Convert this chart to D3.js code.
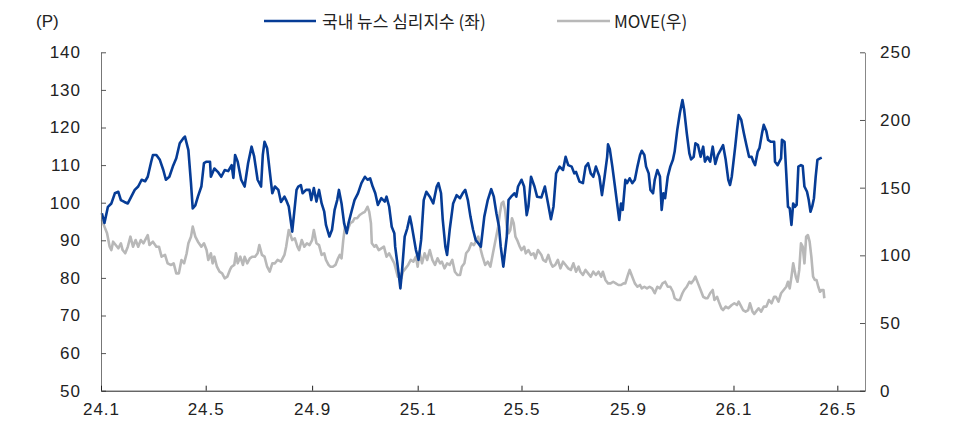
<!DOCTYPE html>
<html>
<head>
<meta charset="utf-8">
<script src="https://cdn.jsdelivr.net/npm/d3@7"></script>
<style>
  body { margin: 0; background: #fff; }
  svg text { font-family: "Liberation Sans", Arial, sans-serif; fill: #222; }
  .legend text { font-family: "Noto Sans CJK KR", "Liberation Sans", sans-serif; }
</style>
</head>
<body>
<svg id="chart" width="955" height="423"></svg>
<script>
// 국내 뉴스 심리지수 (left axis, P)
const sentDates = [
  "2024-01-02","2024-01-05","2024-01-09","2024-01-13","2024-01-17","2024-01-21","2024-01-24","2024-01-28",
  "2024-02-01","2024-02-05","2024-02-09","2024-02-13","2024-02-17","2024-02-21","2024-02-24","2024-02-28",
  "2024-03-01","2024-03-05","2024-03-09","2024-03-13","2024-03-16","2024-03-20","2024-03-24","2024-03-28",
  "2024-04-01","2024-04-05","2024-04-07","2024-04-11","2024-04-14","2024-04-16","2024-04-19","2024-04-22",
  "2024-04-26","2024-04-29","2024-05-02","2024-05-06","2024-05-07","2024-05-11","2024-05-15","2024-05-19",
  "2024-05-23","2024-05-27","2024-05-31","2024-06-02","2024-06-04","2024-06-07","2024-06-11","2024-06-15",
  "2024-06-19","2024-06-23","2024-06-26","2024-06-30","2024-07-04","2024-07-06","2024-07-08","2024-07-11",
  "2024-07-14","2024-07-17","2024-07-20","2024-07-24","2024-07-27","2024-07-31","2024-08-02","2024-08-05",
  "2024-08-09","2024-08-14","2024-08-16","2024-08-19","2024-08-21","2024-08-25","2024-08-29","2024-08-31",
  "2024-09-03","2024-09-06","2024-09-09","2024-09-12","2024-09-15","2024-09-17","2024-09-21","2024-09-24",
  "2024-09-27","2024-09-30","2024-10-02","2024-10-05","2024-10-08","2024-10-11","2024-10-13","2024-10-16",
  "2024-10-20","2024-10-24","2024-10-28","2024-11-01","2024-11-04","2024-11-07","2024-11-10","2024-11-13",
  "2024-11-16","2024-11-20","2024-11-24","2024-11-26","2024-11-29","2024-12-02","2024-12-05","2024-12-06",
  "2024-12-08","2024-12-10","2024-12-12","2024-12-14","2024-12-17","2024-12-20","2024-12-23","2024-12-25",
  "2024-12-28","2024-12-30","2025-01-02","2025-01-05","2025-01-08","2025-01-11","2025-01-15","2025-01-19",
  "2025-01-23","2025-01-25","2025-01-28","2025-01-30","2025-02-02","2025-02-04","2025-02-07","2025-02-11",
  "2025-02-15","2025-02-19","2025-02-22","2025-02-25","2025-02-28","2025-03-03","2025-03-06","2025-03-09",
  "2025-03-12","2025-03-15","2025-03-19","2025-03-23","2025-03-27","2025-03-30","2025-04-02","2025-04-05",
  "2025-04-07","2025-04-10","2025-04-12","2025-04-14","2025-04-16","2025-04-19","2025-04-23","2025-04-25",
  "2025-04-27","2025-05-01","2025-05-04","2025-05-07","2025-05-09","2025-05-12","2025-05-16","2025-05-19",
  "2025-05-24","2025-05-28","2025-06-01","2025-06-04","2025-06-07","2025-06-10","2025-06-14","2025-06-18",
  "2025-06-21","2025-06-24","2025-06-28","2025-07-01","2025-07-03","2025-07-07","2025-07-11","2025-07-14",
  "2025-07-17","2025-07-20","2025-07-23","2025-07-26","2025-07-30","2025-08-02","2025-08-05","2025-08-08",
  "2025-08-09","2025-08-11","2025-08-14","2025-08-17","2025-08-20","2025-08-22","2025-08-24","2025-08-26",
  "2025-08-29","2025-08-31","2025-09-03","2025-09-06","2025-09-09","2025-09-12","2025-09-15","2025-09-17",
  "2025-09-20","2025-09-22","2025-09-25","2025-09-27","2025-09-30","2025-10-02","2025-10-05","2025-10-08",
  "2025-10-10","2025-10-12","2025-10-14","2025-10-17","2025-10-20","2025-10-23","2025-10-25","2025-10-28",
  "2025-10-31","2025-11-03","2025-11-05","2025-11-08","2025-11-11","2025-11-13","2025-11-16","2025-11-18",
  "2025-11-21","2025-11-24","2025-11-27","2025-11-29","2025-12-02","2025-12-05","2025-12-08","2025-12-11",
  "2025-12-14","2025-12-17","2025-12-20","2025-12-23","2025-12-26","2025-12-28","2025-12-30","2026-01-03",
  "2026-01-05","2026-01-07","2026-01-10","2026-01-13","2026-01-16","2026-01-19","2026-01-22","2026-01-24",
  "2026-01-26","2026-01-29","2026-01-31","2026-02-03","2026-02-05","2026-02-08","2026-02-10","2026-02-13",
  "2026-02-17","2026-02-18","2026-02-21","2026-02-25","2026-02-26","2026-03-01","2026-03-03","2026-03-05",
  "2026-03-07","2026-03-09","2026-03-11","2026-03-13","2026-03-15","2026-03-17","2026-03-20","2026-03-22",
  "2026-03-24","2026-03-27","2026-03-29","2026-03-31","2026-04-02","2026-04-04","2026-04-06","2026-04-08",
  "2026-04-11","2026-04-13"
];
const sentValues = [
  97.2,94.6,98.9,99.8,102.5,102.9,100.7,100.2,
  99.8,101.6,103.4,104.3,106.1,105.7,106.9,110.9,
  112.7,112.7,111.4,108.7,106.1,106.9,109.6,111.8,
  115.8,117.1,117.6,114.0,105.2,98.5,99.3,101.6,
  104.3,110.5,110.9,110.9,106.9,109.1,108.2,106.9,
  108.7,108.4,110.0,106.6,112.7,110.9,106.1,104.3,
  110.5,114.9,112.3,106.1,104.3,112.7,116.2,114.5,
  108.4,102.5,104.3,103.4,100.2,101.6,100.7,99.0,
  92.3,103.4,104.3,104.7,102.5,103.4,103.4,100.7,
  103.9,100.3,103.4,99.8,97.6,94.1,91.0,92.8,
  98.1,100.7,103.4,99.8,94.5,91.9,94.5,97.2,
  100.7,102.5,105.2,106.9,106.1,106.5,104.3,102.5,
  99.4,101.2,100.3,101.6,99.0,93.6,91.9,88.3,
  84.8,81.2,77.2,82.1,91.0,93.2,96.3,94.1,
  90.1,87.4,84.8,90.1,100.7,102.9,101.6,99.8,
  104.3,105.2,102.5,95.4,88.3,86.1,92.8,99.8,
  102.0,101.2,102.5,103.4,100.7,96.3,92.8,90.1,
  89.2,88.3,96.3,100.7,103.6,101.6,97.2,93.6,
  88.3,83.0,87.0,91.0,100.7,101.6,102.5,101.6,
  104.3,106.1,104.3,96.7,99.0,106.9,104.3,101.6,
  101.4,104.3,99.4,95.6,99.0,107.8,109.6,108.7,
  112.2,110.0,109.6,107.8,108.2,105.6,105.2,109.6,
  110.5,107.8,106.9,109.6,107.0,102.0,106.9,112.2,
  115.5,114.3,109.6,104.3,98.9,95.4,99.8,98.1,
  106.1,105.2,106.5,105.2,106.1,109.6,112.7,113.8,
  112.7,109.6,107.8,103.4,102.5,106.1,108.7,107.0,
  98.1,102.5,101.2,106.9,109.6,111.4,113.6,119.3,
  123.8,127.3,124.7,118.5,113.1,111.5,112.2,115.8,
  115.3,112.2,114.9,110.9,112.2,110.9,114.9,110.3,
  112.7,114.0,115.3,111.4,106.1,104.7,106.9,114.9,
  119.3,123.3,122.0,118.5,115.3,112.2,112.2,110.9,
  110.0,113.6,114.5,118.5,120.7,119.0,116.7,116.2,
  116.2,110.9,110.0,111.8,116.7,116.2,107.8,98.9,
  98.5,94.1,99.8,98.9,99.4,109.6,110.0,109.8,
  104.3,102.9,100.7,97.6,99.0,101.2,106.9,111.4,
  111.8,112.0
];

// MOVE index (right axis)
const moveDates = [
  "2024-01-02","2024-01-05","2024-01-08","2024-01-11","2024-01-13","2024-01-15","2024-01-18","2024-01-21",
  "2024-01-24","2024-01-26","2024-01-29","2024-02-01","2024-02-04","2024-02-07","2024-02-10","2024-02-13",
  "2024-02-16","2024-02-19","2024-02-24","2024-02-26","2024-03-01","2024-03-05","2024-03-08","2024-03-11",
  "2024-03-15","2024-03-18","2024-03-22","2024-03-25","2024-03-28","2024-03-31","2024-04-03","2024-04-06",
  "2024-04-09","2024-04-11","2024-04-14","2024-04-16","2024-04-19","2024-04-22","2024-04-26","2024-04-29",
  "2024-05-02","2024-05-04","2024-05-07","2024-05-09","2024-05-11","2024-05-14","2024-05-17","2024-05-20",
  "2024-05-23","2024-05-26","2024-05-29","2024-05-31","2024-06-03","2024-06-05","2024-06-07","2024-06-10",
  "2024-06-13","2024-06-15","2024-06-18","2024-06-21","2024-06-24","2024-06-27","2024-06-30","2024-07-02",
  "2024-07-05","2024-07-08","2024-07-11","2024-07-14","2024-07-17","2024-07-20","2024-07-23","2024-07-27",
  "2024-07-31","2024-08-02","2024-08-05","2024-08-09","2024-08-12","2024-08-15","2024-08-17","2024-08-20",
  "2024-08-23","2024-08-26","2024-08-29","2024-09-01","2024-09-03","2024-09-06","2024-09-09","2024-09-12",
  "2024-09-15","2024-09-17","2024-09-20","2024-09-22","2024-09-25","2024-09-28","2024-10-01","2024-10-03",
  "2024-10-05","2024-10-07","2024-10-09","2024-10-12","2024-10-15","2024-10-18","2024-10-20","2024-10-23",
  "2024-10-26","2024-10-29","2024-11-01","2024-11-04","2024-11-06","2024-11-08","2024-11-09","2024-11-12",
  "2024-11-14","2024-11-17","2024-11-20","2024-11-23","2024-11-26","2024-11-29","2024-12-02","2024-12-05",
  "2024-12-07","2024-12-09","2024-12-11","2024-12-13","2024-12-15","2024-12-18","2024-12-21","2024-12-24",
  "2024-12-27","2024-12-30","2025-01-01","2025-01-03","2025-01-06","2025-01-09","2025-01-12","2025-01-15",
  "2025-01-18","2025-01-21","2025-01-24","2025-01-27","2025-01-29","2025-02-01","2025-02-04","2025-02-07",
  "2025-02-10","2025-02-13","2025-02-16","2025-02-19","2025-02-21","2025-02-24","2025-02-26","2025-03-01",
  "2025-03-04","2025-03-07","2025-03-10","2025-03-12","2025-03-15","2025-03-17","2025-03-20","2025-03-23",
  "2025-03-26","2025-03-29","2025-04-01","2025-04-04","2025-04-06","2025-04-08","2025-04-10","2025-04-12",
  "2025-04-14","2025-04-16","2025-04-18","2025-04-20","2025-04-22","2025-04-24","2025-04-26","2025-04-29",
  "2025-05-01","2025-05-04","2025-05-06","2025-05-09","2025-05-12","2025-05-15","2025-05-17","2025-05-20",
  "2025-05-24","2025-05-26","2025-05-29","2025-06-01","2025-06-04","2025-06-06","2025-06-09","2025-06-12",
  "2025-06-15","2025-06-18","2025-06-21","2025-06-24","2025-06-27","2025-06-30","2025-07-03","2025-07-06",
  "2025-07-08","2025-07-11","2025-07-14","2025-07-17","2025-07-20","2025-07-23","2025-07-26","2025-07-29",
  "2025-08-01","2025-08-03","2025-08-06","2025-08-09","2025-08-12","2025-08-15","2025-08-18","2025-08-21",
  "2025-08-24","2025-08-27","2025-08-29","2025-09-01","2025-09-03","2025-09-06","2025-09-09","2025-09-12",
  "2025-09-15","2025-09-17","2025-09-20","2025-09-23","2025-09-26","2025-09-29","2025-10-02","2025-10-05",
  "2025-10-08","2025-10-11","2025-10-14","2025-10-17","2025-10-20","2025-10-23","2025-10-25","2025-10-28",
  "2025-10-31","2025-11-03","2025-11-05","2025-11-08","2025-11-11","2025-11-13","2025-11-16","2025-11-18",
  "2025-11-21","2025-11-24","2025-11-27","2025-11-30","2025-12-02","2025-12-05","2025-12-08","2025-12-10",
  "2025-12-13","2025-12-15","2025-12-18","2025-12-20","2025-12-23","2025-12-26","2025-12-30","2026-01-02",
  "2026-01-05","2026-01-07","2026-01-10","2026-01-12","2026-01-15","2026-01-18","2026-01-20","2026-01-23",
  "2026-01-25","2026-01-27","2026-01-30","2026-02-02","2026-02-05","2026-02-08","2026-02-11","2026-02-14",
  "2026-02-17","2026-02-19","2026-02-22","2026-02-25","2026-02-28","2026-03-03","2026-03-05","2026-03-07",
  "2026-03-09","2026-03-11","2026-03-14","2026-03-16","2026-03-18","2026-03-20","2026-03-22","2026-03-24",
  "2026-03-26","2026-03-28","2026-03-30","2026-04-01","2026-04-03","2026-04-05","2026-04-07","2026-04-09",
  "2026-04-11","2026-04-13","2026-04-15","2026-04-16"
];
const moveValues = [
  126.1,121.2,116.3,106.4,103.9,110.1,107.6,105.2,
  108.9,103.9,101.5,106.4,113.8,106.4,111.3,106.4,
  111.3,108.9,115.0,107.6,110.1,106.4,106.4,99.0,
  100.3,94.1,92.9,94.1,86.7,86.7,96.6,94.1,
  101.5,108.9,113.8,121.2,113.8,110.1,106.4,108.9,
  103.9,96.6,101.5,94.1,99.0,91.6,87.9,86.7,
  83.0,84.2,89.2,91.6,92.9,101.5,94.1,99.0,
  92.9,99.0,94.1,97.8,99.0,99.0,101.5,107.6,
  100.3,99.0,91.6,87.9,94.1,94.1,96.6,95.3,
  100.3,106.4,118.7,111.3,112.6,106.4,103.9,111.3,
  106.4,108.9,107.6,111.3,118.7,108.9,107.6,100.3,
  101.5,96.6,92.9,91.6,91.6,92.9,97.8,100.3,
  97.8,111.3,121.2,118.7,123.7,124.9,127.4,127.4,
  129.8,131.1,132.2,135.9,132.2,123.7,108.9,106.4,
  107.6,103.9,105.2,106.4,99.0,101.5,97.8,94.1,
  89.2,84.2,86.7,83.0,87.9,90.4,92.9,96.6,
  95.3,99.0,91.6,102.7,94.1,101.5,96.6,103.9,
  96.6,92.9,97.8,94.1,95.3,90.4,94.1,92.9,
  96.6,87.9,85.5,85.5,91.6,94.1,101.5,103.9,
  108.9,107.6,111.3,113.8,103.9,99.0,92.9,95.3,
  91.6,101.5,111.3,121.2,131.1,138.4,139.6,133.5,
  121.2,116.3,118.7,127.4,123.7,113.8,111.3,106.4,
  103.9,106.4,101.5,103.9,100.3,101.5,97.8,103.9,
  100.3,96.6,95.3,100.3,94.1,91.6,92.9,96.6,
  90.4,95.3,92.9,90.4,89.2,94.1,87.9,91.6,
  87.9,85.5,89.2,86.7,84.2,87.9,85.5,87.9,
  84.2,87.9,81.8,79.3,79.3,80.5,79.3,78.1,
  78.1,79.3,79.3,85.5,89.2,84.2,79.3,76.8,
  78.1,75.6,76.8,75.6,76.8,75.6,72.0,76.8,
  75.6,79.3,80.5,76.8,76.8,73.1,68.3,67.0,
  67.0,72.0,74.4,76.8,80.5,79.3,81.8,84.2,
  79.3,74.4,69.4,68.3,68.3,72.0,74.4,67.0,
  69.4,65.8,60.9,59.6,62.1,60.9,63.3,64.6,
  63.3,65.8,62.1,59.6,58.4,59.6,64.6,58.4,
  56.7,58.4,60.9,58.4,62.1,62.1,67.0,64.6,
  69.4,69.4,65.8,72.0,74.4,76.8,80.5,75.6,
  84.2,94.1,84.2,80.5,89.2,108.9,106.4,94.1,
  113.8,115.0,110.1,99.0,84.2,81.8,81.8,76.8,
  73.1,74.4,74.4,68.3
];

// Axis ticks
const leftTicks = [50, 60, 70, 80, 90, 100, 110, 120, 130, 140];
const rightTicks = [0, 50, 100, 150, 200, 250];
const xTickDates = ["2024-01-01","2024-05-01","2024-09-01","2025-01-01","2025-05-01","2025-09-01","2026-01-01","2026-05-01"];
const xTickLabels = ["24.1","24.5","24.9","25.1","25.5","25.9","26.1","26.5"];

const legendLabels = ["국내 뉴스 심리지수 (좌)", "MOVE(우)"];
const colors = { sent: "#063c96", move: "#b8b8b8" };

const parse = d3.timeParse("%Y-%m-%d");
const sentData = sentDates.map((d, i) => ({ date: parse(d), value: sentValues[i] }));
const moveData = moveDates.map((d, i) => ({ date: parse(d), value: moveValues[i] }));

const plot = { left: 101, right: 865, top: 52.3, bottom: 390.7 };

const x = d3.scaleTime()
  .domain([parse("2024-01-01"), parse("2026-06-02")])
  .range([plot.left, plot.right]);
const yLeft = d3.scaleLinear().domain([50, 140]).range([plot.bottom, plot.top]);
const yRight = d3.scaleLinear().domain([0, 250]).range([plot.bottom, plot.top]);

const svg = d3.select("#chart");

// Series lines: MOVE underneath, sentiment on top
const moveLine = d3.line().x(d => x(d.date)).y(d => yRight(d.value));
const sentLine = d3.line().x(d => x(d.date)).y(d => yLeft(d.value));

svg.append("path")
  .datum(moveData)
  .attr("d", moveLine)
  .attr("fill", "none")
  .attr("stroke", colors.move)
  .attr("stroke-width", 2.6)
  .attr("stroke-linejoin", "round");

svg.append("path")
  .datum(sentData)
  .attr("d", sentLine)
  .attr("fill", "none")
  .attr("stroke", colors.sent)
  .attr("stroke-width", 2.6)
  .attr("stroke-linejoin", "round");

// Axes
const tickFont = g => g.selectAll("text")
  .style("font-family", "'Liberation Sans', Arial, sans-serif")
  .style("font-size", "17px")
  .style("letter-spacing", "1px")
  .attr("fill", "#222");

const gLeft = svg.append("g")
  .attr("transform", `translate(${plot.left},0)`)
  .call(d3.axisLeft(yLeft).tickValues(leftTicks).tickSizeInner(-5).tickSizeOuter(0).tickPadding(20))
  .call(tickFont);
gLeft.select(".domain").attr("stroke", "#777");
gLeft.selectAll(".tick line").attr("stroke", "#555");

const gRight = svg.append("g")
  .attr("transform", `translate(${plot.right},0)`)
  .call(d3.axisRight(yRight).tickValues(rightTicks).tickSizeInner(-5).tickSizeOuter(0).tickPadding(15))
  .call(tickFont);
gRight.select(".domain").attr("stroke", "#888");
gRight.selectAll(".tick line").attr("stroke", "#555");

const gBottom = svg.append("g")
  .attr("transform", `translate(0,${plot.bottom})`)
  .call(d3.axisBottom(x)
    .tickValues(xTickDates.map(parse))
    .tickFormat((d, i) => xTickLabels[i])
    .tickSizeInner(-5).tickSizeOuter(0).tickPadding(12))
  .call(tickFont);
gBottom.select(".domain").attr("stroke", "#222");
gBottom.selectAll(".tick line").attr("stroke", "#222");
gBottom.selectAll("text").attr("text-anchor", "middle");

// Unit label
svg.append("text")
  .attr("x", 36).attr("y", 27)
  .style("font-size", "17px")
  .text("(P)");

// Legend
const legend = svg.append("g").attr("class", "legend");
const legendItems = [
  { label: legendLabels[0], color: colors.sent, x1: 264, x2: 316, tx: 322 },
  { label: legendLabels[1], color: colors.move, x1: 557, x2: 610, tx: 614 }
];
legendItems.forEach(item => {
  legend.append("line")
    .attr("x1", item.x1).attr("x2", item.x2)
    .attr("y1", 21).attr("y2", 21)
    .attr("stroke", item.color).attr("stroke-width", 2.6);
  legend.append("text")
    .attr("x", item.tx).attr("y", 27.5)
    .style("font-size", "17px")
    .attr("fill", "#222")
    .text(item.label);
});
</script>
</body>
</html>
